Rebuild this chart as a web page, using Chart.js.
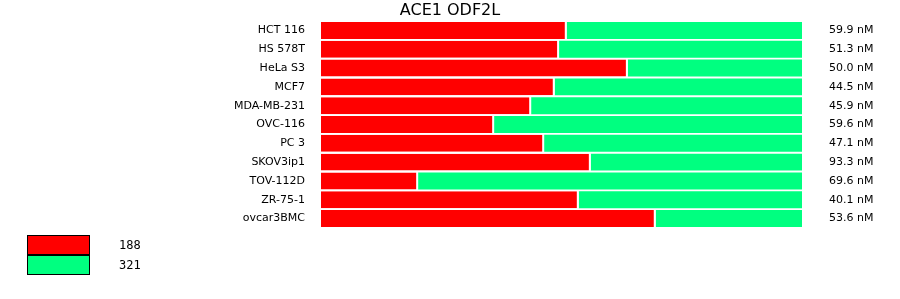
<!DOCTYPE html>
<html lang="en">

<head>
    <meta charset="UTF-8">
    <title>ACE1 ODF2L</title>
    <style>
        html, body {
            margin: 0;
            padding: 0;
            background: #fff;
        }

        .wrap {
            position: relative;
            width: 900px;
            height: 299px;
        }
    </style>
</head>

<body>
    <div class="wrap">
        <canvas id="myChart" width="900" height="299"></canvas>
    </div>

    <script src="https://cdn.jsdelivr.net/npm/chart.js"></script>

    <script>
        // cell lines, top to bottom
        const cellLines = ['HCT 116', 'HS 578T', 'HeLa S3', 'MCF7', 'MDA-MB-231', 'OVC-116',
            'PC 3', 'SKOV3ip1', 'TOV-112D', 'ZR-75-1', 'ovcar3BMC'];
        // share of each bar (percent)
        const redShare = [51.1, 49.5, 63.8, 48.6, 43.7, 36.0, 46.4, 56.1, 20.2, 53.6, 69.6];
        const greenShare = [48.9, 50.5, 36.2, 51.4, 56.3, 64.0, 53.6, 43.9, 79.8, 46.4, 30.4];
        // labels on the right
        const nmLabels = ['59.9 nM', '51.3 nM', '50.0 nM', '44.5 nM', '45.9 nM', '59.6 nM',
            '47.1 nM', '93.3 nM', '69.6 nM', '40.1 nM', '53.6 nM'];
        const seriesNames = ['188', '321'];

        const RED = '#ff0000';
        const GREEN = '#00ff80';

        // legend in the lower left corner
        const boxLegend = {
            id: 'boxLegend',
            afterDraw(chart) {
                const ctx = chart.ctx;
                ctx.save();
                chart.data.datasets.forEach(function (ds, i) {
                    const y = 235 + i * 20;
                    ctx.fillStyle = ds.backgroundColor;
                    ctx.fillRect(27, y, 62, 20);
                    ctx.strokeStyle = '#000';
                    ctx.lineWidth = 1;
                    ctx.strokeRect(27.5, y + 0.5, 62, 19);
                    ctx.fillStyle = '#000';
                    ctx.font = '12px "DejaVu Sans Mono"';
                    ctx.textBaseline = 'middle';
                    ctx.fillText(ds.label, 119, y + 10.5);
                });
                ctx.restore();
            }
        };

        // fixed axis widths, and no extra space above/below the bars
        function fixAxis(w) {
            return function (s) {
                s.width = w;
                s.paddingTop = 0;
                s.paddingBottom = 0;
            };
        }

        const data = {
            labels: cellLines,
            datasets: [{
                label: seriesNames[0],
                data: redShare,
                backgroundColor: RED,
                borderColor: '#fff',
                borderWidth: { top: 0, right: 2, bottom: 0, left: 0 },
                borderSkipped: false
            }, {
                label: seriesNames[1],
                data: greenShare,
                backgroundColor: GREEN,
                borderWidth: 0
            }]
        };

        const config = {
            type: 'bar',
            data: data,
            options: {
                indexAxis: 'y',
                responsive: false,
                animation: false,
                barPercentage: 0.9,
                categoryPercentage: 1,
                layout: {
                    padding: { top: 0, left: 0, right: 0, bottom: 71 }
                },
                plugins: {
                    legend: { display: false },
                    tooltip: { enabled: false },
                    title: {
                        display: true,
                        text: 'ACE1 ODF2L',
                        color: '#000',
                        font: { family: 'DejaVu Sans', size: 16, weight: 'normal', lineHeight: 1.125 },
                        padding: { top: 2, bottom: 1 }
                    }
                },
                scales: {
                    x: {
                        stacked: true,
                        min: 0,
                        max: 100,
                        display: false
                    },
                    y: {
                        stacked: true,
                        grid: { display: false, drawTicks: false },
                        border: { display: false },
                        ticks: {
                            color: '#000',
                            padding: 16,
                            font: { family: 'DejaVu Sans', size: 11 }
                        },
                        afterFit: fixAxis(321)
                    },
                    y2: {
                        type: 'category',
                        labels: nmLabels,
                        position: 'right',
                        offset: true,
                        grid: { display: false, drawTicks: false },
                        border: { display: false },
                        ticks: {
                            color: '#000',
                            padding: 27,
                            font: { family: 'DejaVu Sans', size: 11 }
                        },
                        afterFit: fixAxis(98)
                    }
                }
            },
            plugins: [boxLegend]
        };

        const myChart = new Chart(document.getElementById('myChart'), config);
    </script>
</body>

</html>
